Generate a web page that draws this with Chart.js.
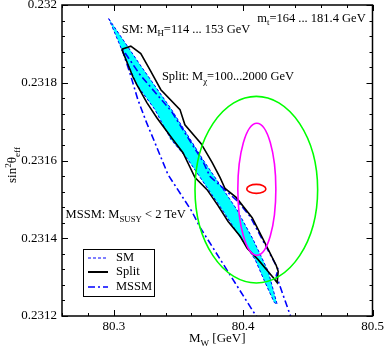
<!DOCTYPE html>
<html>
<head>
<meta charset="utf-8">
<script src="https://cdn.jsdelivr.net/npm/chart.js@4.4.0/dist/chart.umd.min.js"></script>
<style>
  html, body { margin: 0; padding: 0; background: #fff; }
</style>
</head>
<body>
<canvas id="myChart" width="384" height="349"></canvas>
<script>
const xTicks = [80.3, 80.4, 80.5];
const yTicks = [0.2312, 0.2314, 0.2316, 0.2318, 0.232];

// SM band: upper edge going down, then lower edge coming back up
const smMw = [80.2961, 80.3202, 80.3447, 80.3690, 80.3951, 80.4077, 80.4194, 80.4263,
  80.4240, 80.4170, 80.4093, 80.3953, 80.3837, 80.3574, 80.3442, 80.3318, 80.3178, 80.3062, 80.2961];
const smSin = [0.231965, 0.231847, 0.231731, 0.231602, 0.231474, 0.231397, 0.231315, 0.231230,
  0.231235, 0.231286, 0.231345, 0.231415, 0.231474, 0.231602, 0.231654, 0.231731, 0.231795, 0.231885, 0.231965];

// Split contour
const splitMw = [80.3062, 80.3132, 80.3209, 80.3279, 80.3364, 80.3512, 80.3550, 80.3674, 80.3760,
  80.3822, 80.3860, 80.3946, 80.4070, 80.4147, 80.4256, 80.4271, 80.4263,
  80.4232, 80.4116, 80.4031, 80.3977, 80.3884, 80.3806, 80.3721, 80.3628, 80.3535, 80.3457,
  80.3333, 80.3256, 80.3178, 80.3147, 80.3062];
const splitSin = [0.231886, 0.231894, 0.231875, 0.231834, 0.231782, 0.231731, 0.231692, 0.231644, 0.231595,
  0.231556, 0.231528, 0.231505, 0.231453, 0.231402, 0.231330, 0.231315, 0.231286,
  0.231299, 0.231345, 0.231374, 0.231405, 0.231443, 0.231484, 0.231525, 0.231556, 0.231620, 0.231654,
  0.231710, 0.231749, 0.231795, 0.231816, 0.231886];

// MSSM region: lower edge from the bottom up, then upper edge back down
const mssmMw = [80.4132, 80.4077, 80.3667, 80.3602, 80.3419, 80.3318, 80.3253, 80.3186, 80.3124, 80.3060,
  80.3202, 80.3447, 80.3690, 80.3744, 80.3961, 80.4054, 80.4271, 80.4256, 80.4364, 80.4388];
const mssmSin = [0.231186, 0.231212, 0.231428, 0.231470, 0.231564, 0.231646, 0.231698, 0.231757, 0.231826, 0.231890,
  0.231821, 0.231726, 0.231597, 0.231559, 0.231494, 0.231456, 0.231320, 0.231304, 0.231202, 0.231181];

// experimental ellipses: green, magenta, red
const ellCx = [80.4102, 80.4106, 80.4102];
const ellCy = [0.231525, 0.231526, 0.231527];
const ellRx = [0.0474, 0.0147, 0.0074];
const ellRy = [0.00024, 0.00017, 0.0000116];
const ellColors = ['rgb(0,255,0)', 'rgb(255,0,255)', 'rgb(255,0,0)'];

const FONT = "'Liberation Serif', 'DejaVu Serif', serif";
const BLUE = 'rgb(0,0,255)';
const DASH_SM = [3, 2];
const DASH_MSSM = [7, 3, 2, 3];

const toPoints = (xs, ys) => xs.map((x, i) => ({ x: x, y: ys[i] }));

// text with sub/superscripts: parts are [text, kind] with kind 0, 'sub' or 'sup'
function richWidth(ctx, parts, size) {
  let w = 0;
  parts.forEach(([t, k]) => {
    ctx.font = (k ? size * 0.7 : size) + 'px ' + FONT;
    w += ctx.measureText(t).width;
  });
  return w;
}
function drawRich(ctx, parts, x, y, size) {
  parts.forEach(([t, k]) => {
    const s = k ? size * 0.7 : size;
    const dy = k === 'sub' ? size * 0.3 : k === 'sup' ? -size * 0.4 : 0;
    ctx.font = s + 'px ' + FONT;
    ctx.fillText(t, x, y + dy);
    x += ctx.measureText(t).width;
  });
}

const notes = [
  { mw: 80.3062, s: 0.231929, parts: [['SM: M', 0], ['H', 'sub'], ['=114 ... 153 GeV', 0]] },
  { mw: 80.4109, s: 0.231957, parts: [['m', 0], ['t', 'sub'], ['=164 ... 181.4 GeV', 0]] },
  { mw: 80.3372, s: 0.231807, parts: [['Split: M', 0], ['\u03c7', 'sub'], ['=100...2000 GeV', 0]] },
  { mw: 80.2628, s: 0.231451, parts: [['MSSM: M', 0], ['SUSY', 'sub'], [' < 2 TeV', 0]] },
];

const decor = {
  id: 'decor',
  afterDatasetsDraw(chart) {
    const { ctx, chartArea: a, scales: { x, y } } = chart;
    ctx.save();
    ctx.beginPath();
    ctx.rect(a.left, a.top, a.right - a.left, a.bottom - a.top);
    ctx.clip();
    ctx.lineWidth = 1.6;
    ellCx.forEach((cx, i) => {
      const px = x.getPixelForValue(cx);
      const py = y.getPixelForValue(ellCy[i]);
      const rx = x.getPixelForValue(cx + ellRx[i]) - px;
      const ry = py - y.getPixelForValue(ellCy[i] + ellRy[i]);
      ctx.strokeStyle = ellColors[i];
      ctx.beginPath();
      ctx.ellipse(px, py, rx, ry, 0, 0, 2 * Math.PI);
      ctx.stroke();
    });
    ctx.restore();

    ctx.save();
    ctx.fillStyle = '#000';
    ctx.textBaseline = 'alphabetic';
    notes.forEach(n => drawRich(ctx, n.parts, x.getPixelForValue(n.mw), y.getPixelForValue(n.s), 12.5));
    ctx.restore();
  },
  afterDraw(chart) {
    const { ctx, chartArea: a, scales: { x, y } } = chart;
    ctx.save();
    ctx.strokeStyle = '#000';
    ctx.lineWidth = 1.5;
    ctx.strokeRect(a.left, a.top, a.right - a.left, a.bottom - a.top);

    // inward ticks on all four sides
    ctx.lineWidth = 1;
    ctx.beginPath();
    for (let i = 0; i <= 12; i++) {
      const v = 80.26 + i * 0.02;
      const major = xTicks.some(t => Math.abs(t - v) < 1e-6);
      const len = major ? 6 : 3;
      const px = Math.round(x.getPixelForValue(v)) + 0.5;
      ctx.moveTo(px, a.bottom); ctx.lineTo(px, a.bottom - len);
      ctx.moveTo(px, a.top); ctx.lineTo(px, a.top + len);
    }
    for (let i = 0; i <= 20; i++) {
      const v = 0.2312 + i * 0.00004;
      const major = i % 5 === 0;
      const len = major ? 6 : 3;
      const py = Math.round(y.getPixelForValue(v)) + 0.5;
      ctx.moveTo(a.left, py); ctx.lineTo(a.left + len, py);
      ctx.moveTo(a.right, py); ctx.lineTo(a.right - len, py);
    }
    ctx.stroke();

    // axis titles
    ctx.fillStyle = '#000';
    ctx.textBaseline = 'alphabetic';
    const xt = [['M', 0], ['W', 'sub'], [' [GeV]', 0]];
    drawRich(ctx, xt, (a.left + a.right) / 2 - richWidth(ctx, xt, 13) / 2, 342, 13);
    const yt = [['sin', 0], ['2', 'sup'], ['\u03b8', 0], ['eff', 'sub']];
    ctx.save();
    ctx.translate(16, 165);
    ctx.rotate(-Math.PI / 2);
    drawRich(ctx, yt, -richWidth(ctx, yt, 13) / 2, 0, 13);
    ctx.restore();

    // legend box
    ctx.fillStyle = '#fff';
    ctx.fillRect(83.5, 249.5, 71, 47);
    ctx.lineWidth = 1;
    ctx.strokeRect(83.5, 249.5, 71, 47);
    const rows = [
      { label: 'SM', color: BLUE, width: 1, dash: DASH_SM, y: 258 },
      { label: 'Split', color: '#000', width: 2, dash: [], y: 272 },
      { label: 'MSSM', color: BLUE, width: 1.6, dash: DASH_MSSM, y: 287 },
    ];
    rows.forEach(r => {
      ctx.strokeStyle = r.color;
      ctx.lineWidth = r.width;
      ctx.setLineDash(r.dash);
      ctx.beginPath();
      ctx.moveTo(88, r.y); ctx.lineTo(108, r.y);
      ctx.stroke();
      ctx.setLineDash([]);
      ctx.fillStyle = '#000';
      ctx.font = '12.5px ' + FONT;
      ctx.textBaseline = 'middle';
      ctx.fillText(r.label, 116, r.y);
    });
    ctx.restore();
  }
};

const data = {
  datasets: [
    {
      label: 'Split',
      data: toPoints(splitMw, splitSin),
      showLine: true,
      borderColor: '#000',
      borderWidth: 1.6,
      pointRadius: 0,
      fill: false,
      order: 1,
    },
    {
      label: 'MSSM',
      data: toPoints(mssmMw, mssmSin),
      showLine: true,
      borderColor: BLUE,
      borderWidth: 1.6,
      borderDash: DASH_MSSM,
      pointRadius: 0,
      fill: false,
      order: 2,
    },
    {
      label: 'SM',
      data: toPoints(smMw, smSin),
      showLine: true,
      borderColor: BLUE,
      borderWidth: 1,
      borderDash: DASH_SM,
      backgroundColor: 'rgb(0,255,255)',
      pointRadius: 0,
      fill: 'shape',
      order: 3,
    },
  ]
};

const tickFont = { family: FONT, size: 13 };

const config = {
  type: 'scatter',
  data: data,
  options: {
    responsive: false,
    animation: false,
    devicePixelRatio: 1,
    layout: { padding: { top: 5, right: 11.5, left: 0, bottom: 0 } },
    plugins: { legend: { display: false }, tooltip: { enabled: false } },
    scales: {
      x: {
        type: 'linear',
        min: 80.26,
        max: 80.5,
        grid: { display: false, drawTicks: false },
        border: { display: false },
        ticks: { font: tickFont, color: '#000', padding: 3, maxRotation: 0, callback: v => v.toFixed(1) },
        afterBuildTicks: s => { s.ticks = xTicks.map(v => ({ value: v })); },
        afterFit: s => { s.height = 33; s.paddingLeft = 0; s.paddingRight = 0; },
      },
      y: {
        type: 'linear',
        min: 0.2312,
        max: 0.232,
        grid: { display: false, drawTicks: false },
        border: { display: false },
        ticks: { font: tickFont, color: '#000', padding: 5, callback: v => String(+v.toFixed(4)) },
        afterBuildTicks: s => { s.ticks = yTicks.map(v => ({ value: v })); },
        afterFit: s => { s.width = 62; s.paddingTop = 0; s.paddingBottom = 0; },
      },
    },
  },
  plugins: [decor],
};

const myChart = new Chart(document.getElementById('myChart'), config);
</script>
</body>
</html>
